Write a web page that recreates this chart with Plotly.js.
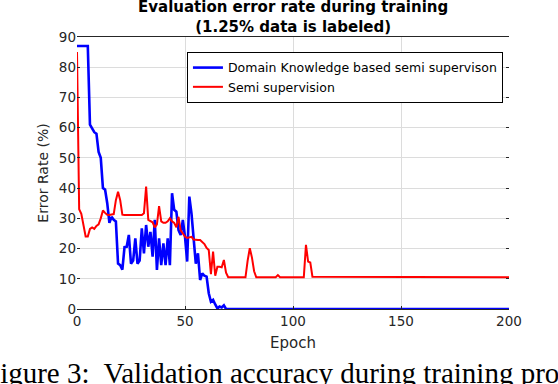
<!DOCTYPE html>
<html>
<head>
<meta charset="utf-8">
<script src="https://cdn.plot.ly/plotly-3.0.1.min.js"></script>
<style>
	html, body { margin: 0; padding: 0; background: #ffffff; }
	#plotContainer { width: 558px; height: 384px; }
</style>
</head>
<body>
<div id="plotContainer"></div>
<script>

// Domain knowledge based semi supervision (blue)
const blueEpochs = [
	0, 1, 2, 3, 4, 5, 6, 7, 8, 9, 10, 11, 12, 13, 14, 15, 16, 17, 18, 19,
	20, 21, 22, 23, 24, 25, 26, 27, 28, 29, 30, 31, 32, 33, 34, 35, 36, 37, 38, 39,
	40, 41, 42, 43, 44, 45, 46, 47, 48, 49, 50, 51, 52, 53, 54, 55, 56, 57, 58, 59,
	60, 61, 62, 63, 64, 65, 66, 67, 68, 69, 200
];
const blueError = [
	87, 87, 87, 87, 87, 87, 61, 59.5, 58.5, 58, 52, 50, 40, 39.5, 35, 28.5, 30.5, 29.5, 29, 15,
	14.5, 13, 20.5, 20.6, 24.5, 15, 16, 23.4, 15, 16, 26.7, 18.4, 27.8, 20.6, 25.5, 17.3, 29.5, 12.9, 23.4, 14.5,
	21.7, 14.5, 23.4, 14.5, 38.3, 32.8, 32.2, 26.1, 24.5, 29.5, 23.9, 15.7, 37.2, 31.6, 23.9, 15, 18.4, 9.6, 11.8, 11,
	10.7, 5.2, 2.4, 3, 1.5, 0.2, 0.8, 0.5, 1.2, 0, 0
];

// Semi supervision (red)
const redEpochs = [
	0, 1, 2, 3, 4, 5, 6, 7, 8, 9, 10, 11, 12, 13, 14, 15, 16, 17, 18, 19,
	20, 21, 22, 30, 31, 32, 33, 34, 35, 36, 37, 38, 39,
	40, 41, 42, 43, 44, 45, 46, 47, 48, 49, 50, 51, 52, 53, 54, 55, 56, 57, 58, 59,
	60, 61, 62, 63, 64, 65, 66, 67, 68, 69, 70, 78, 79, 80, 81, 82, 83,
	92, 93, 94, 105, 106, 107, 108, 109, 200
];
const redError = [
	85, 33, 31.5, 27, 24, 24, 26.5, 27, 26.5, 27.5, 28, 30, 32.6, 31.8, 31.2, 31.1, 31.2, 31.4, 36, 38.8,
	36, 31.2, 31.1, 31.1, 31.7, 40.5, 29.5, 29, 28.7, 27, 28, 34, 29,
	28.5, 28.5, 29, 30, 29, 28.5, 27, 30.5, 26, 25, 24, 23.5, 23.6, 23.9, 23, 22.8, 22.8, 22.8, 22.2, 21.5,
	20.2, 19.5, 11.5, 19, 11, 14, 14, 13.8, 16.2, 12, 10.5, 10.5, 16, 20.1, 17, 12.5, 10.5,
	10.5, 11.2, 10.5, 10.5, 21.2, 15.7, 15.4, 10.7, 10.5
];

const xTicks = [ 0, 50, 100, 150, 200 ];
const yTicks = [ 0, 10, 20, 30, 40, 50, 60, 70, 80, 90 ];

const textColor = '#262626';
const chartFont = 'DejaVu Sans, sans-serif';

let data = [
	{
		x: blueEpochs,
		y: blueError,
		type: 'scatter',
		mode: 'lines',
		name: 'Domain Knowledge based semi supervison',
		line: { color: '#0000ff', width: 2.6 }
	},
	{
		x: redEpochs,
		y: redError,
		type: 'scatter',
		mode: 'lines',
		name: 'Semi supervision',
		line: { color: '#ff0000', width: 2 }
	}
];

let layout = {
	width: 558,
	height: 384,
	margin: { l: 77, r: 49, t: 37, b: 75 },
	paper_bgcolor: '#ffffff',
	plot_bgcolor: '#ffffff',
	font: { family: chartFont, size: 12, color: textColor },
	showlegend: true,
	xaxis: {
		range: [ 0, 200 ],
		tickvals: xTicks,
		ticks: 'inside',
		ticklen: 3,
		tickcolor: '#262626',
		showline: true,
		linecolor: '#262626',
		linewidth: 1,
		mirror: true,
		showgrid: true,
		gridcolor: '#dcdcdc',
		zeroline: false,
		tickfont: { size: 13.5, color: textColor },
		title: { text: 'Epoch', font: { size: 15, color: textColor }, standoff: 9 }
	},
	yaxis: {
		range: [ 0, 90 ],
		tickvals: yTicks,
		ticks: 'inside',
		ticklen: 3,
		tickcolor: '#262626',
		showline: false,
		mirror: 'ticks',
		showgrid: true,
		gridcolor: '#dcdcdc',
		zeroline: false,
		tickfont: { size: 13.5, color: textColor },
		title: { text: 'Error Rate (%)', font: { size: 14, color: textColor }, standoff: 6 }
	},
	legend: {
		x: 0.986,
		xanchor: 'right',
		y: 0.945,
		yanchor: 'top',
		bgcolor: '#ffffff',
		bordercolor: '#000000',
		borderwidth: 1,
		font: { size: 12.5, color: '#000000' },
		tracegroupgap: 0,
		itemwidth: 30
	},
	annotations: [
		{
			// chart title, placed so that its first line runs off the top edge like the reference
			text: '<b>Evaluation error rate during training<br>(1.25% data is labeled)</b>',
			xref: 'paper',
			yref: 'paper',
			x: 0.5,
			xanchor: 'center',
			y: 0.997,
			yanchor: 'bottom',
			showarrow: false,
			font: { family: chartFont, size: 15, color: '#000000' }
		},
		{
			text: 'Figure 3:  Validation accuracy during training process',
			xref: 'paper',
			yref: 'paper',
			x: -0.22,
			xanchor: 'left',
			y: -0.168,
			yanchor: 'top',
			showarrow: false,
			font: { family: 'Liberation Serif, serif', size: 29, color: '#000000' }
		}
	]
};

Plotly.newPlot( 'plotContainer', data, layout, { staticPlot: true } );

</script>
</body>
</html>
